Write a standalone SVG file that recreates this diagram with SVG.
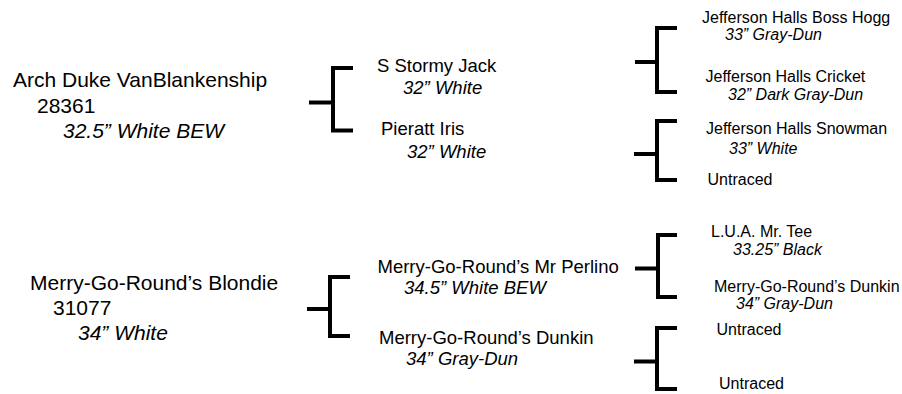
<svg xmlns="http://www.w3.org/2000/svg" width="902" height="394" viewBox="0 0 902 394">
<style>
text{font-family:"Liberation Sans",Arial,sans-serif;fill:#000}
.l{font-size:21px}
.m{font-size:18.5px}
.s{font-size:16px}
.i{font-style:italic}
.br{fill:none;stroke:#000;stroke-width:4;stroke-linejoin:miter;stroke-linecap:butt}
</style>
<rect width="902" height="394" fill="#fff"/>
<g id="connectors">
<path class="br" d="M353 68H333V130.5H353M309 102.5H333"/>
<path class="br" d="M677 28H657V92H677M635 62H657"/>
<path class="br" d="M677 121H657V180H677M634 154H657"/>
<path class="br" d="M350 277H330V336H350M307 309H330"/>
<path class="br" d="M677 235H658V297H677M635 268.5H658"/>
<path class="br" d="M677 328H657V389H677M634 361.5H657"/>
</g>
<g id="arch-duke">
<text class="l" x="13" y="87">Arch Duke VanBlankenship</text>
<text class="l" x="37" y="112.5">28361</text>
<text class="l i" x="63" y="137.5">32.5” White BEW</text>
</g>
<g id="stormy-jack">
<text class="m" x="377" y="71.5">S Stormy Jack</text>
<text class="m i" x="403" y="94">32” White</text>
</g>
<g id="pieratt-iris">
<text class="m" x="381" y="135">Pieratt Iris</text>
<text class="m i" x="407" y="157.5">32” White</text>
</g>
<g id="boss-hogg">
<text class="s" x="702" y="23">Jefferson Halls Boss Hogg</text>
<text class="s i" x="725" y="39.5">33” Gray-Dun</text>
</g>
<g id="cricket">
<text class="s" x="705.5" y="81.5">Jefferson Halls Cricket</text>
<text class="s i" x="728" y="100">32” Dark Gray-Dun</text>
</g>
<g id="snowman">
<text class="s" x="706" y="133.5">Jefferson Halls Snowman</text>
<text class="s i" x="729" y="154">33” White</text>
</g>
<g id="untraced-1">
<text class="s" x="707.5" y="185">Untraced</text>
</g>
<g id="blondie">
<text class="l" x="30" y="290">Merry-Go-Round’s Blondie</text>
<text class="l" x="53" y="315">31077</text>
<text class="l i" x="78" y="340">34” White</text>
</g>
<g id="mr-perlino">
<text class="m" x="377.5" y="272.5">Merry-Go-Round’s Mr Perlino</text>
<text class="m i" x="404" y="293.5">34.5” White BEW</text>
</g>
<g id="dunkin">
<text class="m" x="379" y="343.5">Merry-Go-Round’s Dunkin</text>
<text class="m i" x="406" y="365">34” Gray-Dun</text>
</g>
<g id="mr-tee">
<text class="s" x="711" y="236.5">L.U.A. Mr. Tee</text>
<text class="s i" x="733" y="255">33.25” Black</text>
</g>
<g id="dunkin-2">
<text class="s" x="714" y="292">Merry-Go-Round’s Dunkin</text>
<text class="s i" x="736" y="308.5">34” Gray-Dun</text>
</g>
<g id="untraced-2">
<text class="s" x="716.5" y="335">Untraced</text>
</g>
<g id="untraced-3">
<text class="s" x="719" y="389">Untraced</text>
</g>
</svg>
